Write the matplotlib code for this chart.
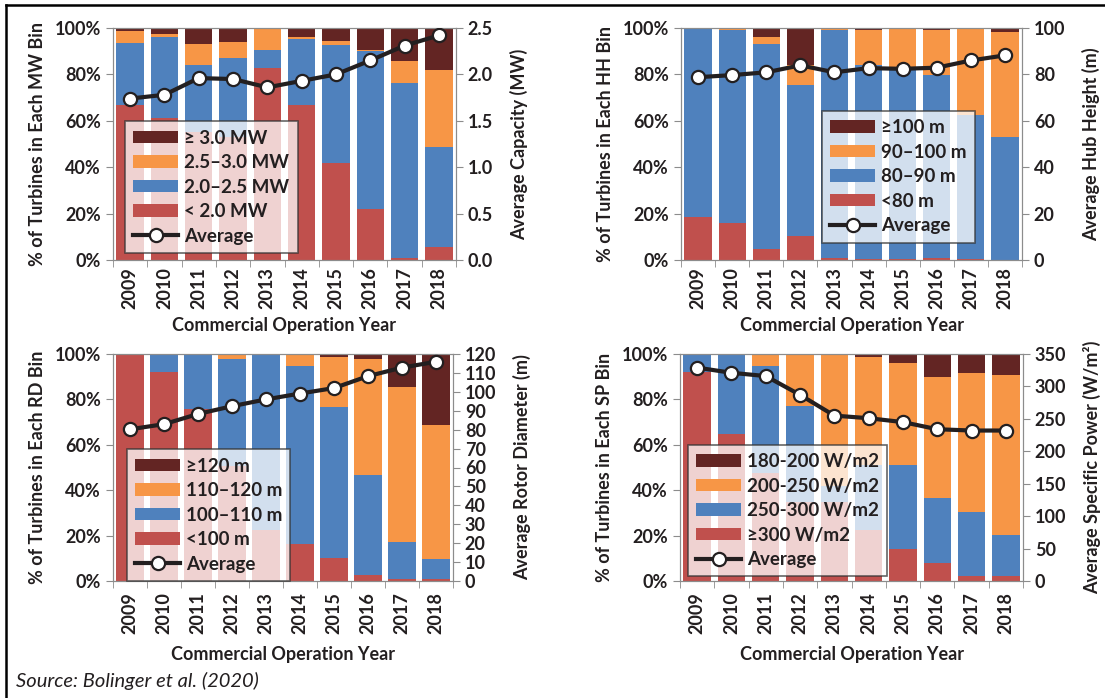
import numpy as np
import matplotlib.pyplot as plt
from matplotlib.lines import Line2D
from matplotlib.patches import Patch

plt.rcParams['font.family'] = ['Lato', 'DejaVu Sans']
plt.rcParams['font.weight'] = 'bold'
plt.rcParams['axes.labelweight'] = 'bold'

years = ['2009', '2010', '2011', '2012', '2013', '2014', '2015', '2016', '2017', '2018']

# share of turbines (%) per bin, lowest bin first
mw_lt2 = [67, 61, 55, 53, 82.9, 66.8, 42, 22, 1, 5.5]
mw_2_25 = [26.5, 35, 29, 34.2, 7.5, 28.5, 50.7, 68.1, 75.5, 43.4]
mw_25_3 = [5, 1.4, 9, 6.8, 9.6, 0.8, 1.8, 0.4, 9.1, 33.1]
mw_ge3 = [1.5, 2.6, 7, 6, 0, 3.9, 5.5, 9.5, 14.4, 18]
avg_mw = [1.74, 1.78, 1.96, 1.95, 1.86, 1.93, 2.00, 2.15, 2.31, 2.42]

hh_lt80 = [18.4, 16.1, 4.6, 10.2, 1, 0.3, 0.3, 1, 0.6, 0]
hh_80_90 = [81.6, 82.9, 88.4, 65.3, 98, 83.6, 82.7, 78.9, 62, 53]
hh_90_100 = [0, 0.5, 3.1, 8.4, 0.4, 15.4, 16.4, 19.1, 37.4, 45.3]
hh_ge100 = [0, 0.5, 3.9, 16.1, 0.6, 0.7, 0.6, 1, 0, 1.7]
avg_hh = [78.8, 79.7, 80.9, 83.9, 80.9, 82.7, 82.4, 82.9, 86.0, 88.2]

rd_lt100 = [100, 92.2, 75.8, 50.8, 22.5, 16.2, 10.2, 2.7, 0.9, 0.8]
rd_100_110 = [0, 7.8, 24.2, 46.9, 77.5, 78.4, 66.5, 44.1, 16.1, 8.7]
rd_110_120 = [0, 0, 0, 2.3, 0, 5.4, 22.1, 50.9, 68.6, 59.3]
rd_ge120 = [0, 0, 0, 0, 0, 0, 1.2, 2.3, 14.4, 31.2]
avg_rd = [80.2, 82.9, 88.3, 92.4, 96.0, 99.1, 102.0, 108.3, 112.8, 115.9]

sp_ge300 = [92.2, 64.9, 47.4, 34.7, 34.8, 22.3, 14.1, 7.9, 2.4, 2.1]
sp_250_300 = [7.8, 35.1, 47.3, 42.5, 7.1, 28.6, 36.8, 28.7, 28, 18]
sp_200_250 = [0, 0, 5.3, 22.8, 58.1, 47.9, 45.3, 53.4, 61.4, 70.5]
sp_180_200 = [0, 0, 0, 0, 0, 1.2, 3.8, 10, 8.2, 9.4]
avg_sp = [329, 321, 316, 287, 255, 251, 245, 234, 232, 232]

colors = ['#C0504D', '#4F81BD', '#F79646', '#632523']
ink = '#231F20'
spine_c = '#8C8C8C'

fig = plt.figure(figsize=(11.05, 6.98), dpi=100)
W, H = 1105, 698


def px_rect(x0, x1, ytop, ybot):
    return [x0 / W, 1 - ybot / H, (x1 - x0) / W, (ybot - ytop) / H]


def panel(rect, series, names, avg, ymax2, ticks2, fmt2, ylabel, ylabel2, leg_xy,
          xpad=5, xlabelpad=5):
    ax = fig.add_axes(rect)
    x = np.arange(len(years))
    bottom = np.zeros(len(years))
    for vals, c in zip(series, colors):
        ax.bar(x, vals, 0.8, bottom=bottom, color=c, linewidth=0, zorder=2)
        bottom += np.array(vals)
    ax.set_xlim(-0.5, 9.5)
    ax.set_ylim(0, 100)
    ax.set_yticks(range(0, 101, 20))
    ax.set_yticklabels([f'{v}%' for v in range(0, 101, 20)])
    ax.set_xticks(x)
    ax.set_xticklabels(years, rotation=90)
    ax.set_xticks(np.arange(-0.5, 10, 1), minor=True)
    ax.tick_params(axis='x', which='major', length=0, pad=xpad, labelsize=13, colors=ink)
    ax.tick_params(axis='x', which='minor', length=5, color=spine_c)
    ax.tick_params(axis='y', length=5, color=spine_c, labelsize=13, labelcolor=ink)
    for s in ax.spines.values():
        s.set_color(spine_c)
    ax.set_xlabel('Commercial Operation Year', fontsize=13, color=ink, labelpad=xlabelpad)
    ax.set_ylabel(ylabel, fontsize=13, color=ink, labelpad=6)

    ax2 = ax.twinx()
    ax2.plot(x, avg, color=ink, lw=3, marker='o', ms=9.5, mfc='white', mec=ink, mew=1.6, zorder=3)
    ax2.set_ylim(0, ymax2)
    ax2.set_yticks(ticks2)
    ax2.set_yticklabels([fmt2.format(t) for t in ticks2])
    ax2.tick_params(axis='y', length=5, color=spine_c, labelsize=13, labelcolor=ink)
    for s in ax2.spines.values():
        s.set_color(spine_c)
    ax2.set_ylabel(ylabel2, fontsize=13, color=ink, labelpad=12)

    handles = [Patch(facecolor=c, edgecolor='none') for c in colors][::-1]
    handles.append(Line2D([], [], color=ink, lw=3, marker='o', ms=9.5, mfc='white', mec=ink, mew=1.6))
    labels = names[::-1] + ['Average']
    leg = ax2.legend(handles, labels, loc='lower left', bbox_to_anchor=leg_xy,
                     frameon=True, fancybox=False, framealpha=0.75,
                     edgecolor='#333333', handlelength=2.4, handleheight=0.65,
                     handletextpad=0.3, labelspacing=0.4, borderpad=0.45,
                     borderaxespad=0, prop={'weight': 'bold', 'size': 13.5})
    leg.get_frame().set_linewidth(1.2)
    for t in leg.get_texts():
        t.set_color(ink)
    return ax


panel(px_rect(113, 456, 28, 260), [mw_lt2, mw_2_25, mw_25_3, mw_ge3],
      ['< 2.0 MW', '2.0–2.5 MW', '2.5–3.0 MW', '≥ 3.0 MW'], avg_mw,
      2.5, [0, 0.5, 1.0, 1.5, 2.0, 2.5], '{:.1f}',
      '% of Turbines in Each MW Bin', 'Average Capacity (MW)', (0.035, 0.03),
      xpad=5, xlabelpad=6)

panel(px_rect(681, 1022, 28, 260), [hh_lt80, hh_80_90, hh_90_100, hh_ge100],
      ['<80 m', '80–90 m', '90–100 m', '≥100 m'], avg_hh,
      100, list(range(0, 101, 20)), '{}',
      '% of Turbines in Each HH Bin', 'Average Hub Height (m)', (0.413, 0.075),
      xpad=5, xlabelpad=6)

panel(px_rect(113, 453, 354, 581), [rd_lt100, rd_100_110, rd_110_120, rd_ge120],
      ['<100 m', '100–110 m', '110–120 m', '≥120 m'], avg_rd,
      120, list(range(0, 121, 10)), '{}',
      '% of Turbines in Each RD Bin', 'Average Rotor Diameter (m)', (0.04, 0.0),
      xpad=8, xlabelpad=9)

panel(px_rect(680, 1023, 354, 581), [sp_ge300, sp_250_300, sp_200_250, sp_180_200],
      ['≥300 W/m2', '250-300 W/m2', '200-250 W/m2', '180-200 W/m2'], avg_sp,
      350, list(range(0, 351, 50)), '{}',
      '% of Turbines in Each SP Bin', 'Average Specific Power (W/m²)', (0.023, 0.02),
      xpad=8, xlabelpad=9)

fig.text(16 / W, 1 - 681 / H, 'Source: Bolinger et al. (2020)', fontsize=14.5,
         style='italic', fontweight='normal', color=ink, va='center', ha='left')

# frame lines along the top and left edge
fig.add_artist(Line2D([6 / W, 1], [1 - 5 / H, 1 - 5 / H], color='black', lw=1.8))
fig.add_artist(Line2D([6 / W, 6 / W], [0, 1 - 5 / H], color='black', lw=1.8))

fig.savefig('out.png', dpi=100)
